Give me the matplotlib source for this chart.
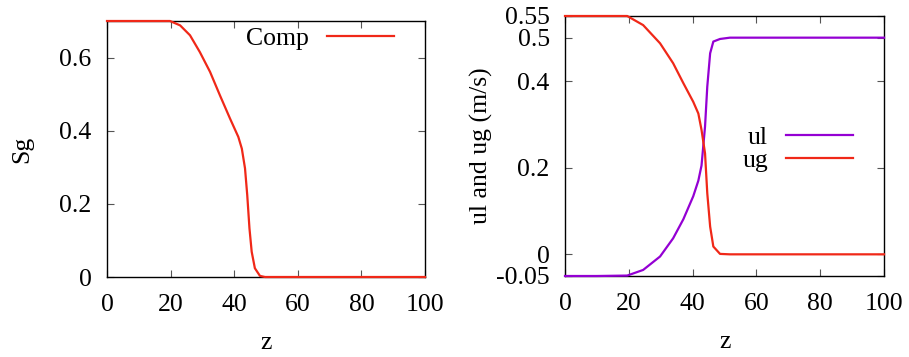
"""Gas saturation and phase velocities along z."""

import matplotlib.pyplot as plt

# gas saturation profile
z_sg = [0, 10, 19.8, 23, 26.1, 29.2, 32.4, 35.5, 38.7, 41.3, 42.4, 43.4,
        44.1, 44.8, 45.5, 46.5, 48.1, 49.7, 60, 80, 100]
sg = [0.7, 0.7, 0.7, 0.688, 0.661, 0.615, 0.561, 0.497, 0.433, 0.383, 0.351,
      0.297, 0.224, 0.133, 0.069, 0.024, 0.003, 0.0, 0.0, 0.0, 0.0]

# phase velocities
z_u = [0, 10, 19.5, 24.5, 29.8, 33.9, 37.1, 40.2, 41.8, 42.8, 43.9, 44.6,
       45.5, 46.5, 48.6, 51.7, 60, 80, 100]
ug = [0.55, 0.55, 0.55, 0.529, 0.487, 0.441, 0.395, 0.352, 0.325, 0.287,
      0.233, 0.141, 0.064, 0.018, 0.001, 0.0, 0.0, 0.0, 0.0]
ul = [-0.05, -0.05, -0.049, -0.036, -0.005, 0.037, 0.081, 0.134, 0.17, 0.205,
      0.295, 0.387, 0.464, 0.491, 0.497, 0.5, 0.5, 0.5, 0.5]

RED = '#f02818'
PURPLE = '#9400d3'
FS = 18.5


def style(ax):
    """Gnuplot-like axes: inward mirrored ticks."""
    ax.tick_params(direction='in', top=True, right=True, length=5,
                   width=0.8, color='#555555', labelsize=FS)
    ax.tick_params(axis='x', pad=12)
    ax.tick_params(axis='y', pad=11)
    for spine in ax.spines.values():
        spine.set_linewidth(1.0)


def main():
    """Main program called during execution."""

    plt.rcParams['font.family'] = ['Liberation Serif', 'DejaVu Serif']
    fig = plt.figure(figsize=(9.09, 3.57), dpi=100)

    # left panel: saturation
    ax = fig.add_axes([107/909, 1-277/357, 318/909, 256/357])
    ax.plot(z_sg, sg, color=RED, lw=1.6, label='Comp', clip_on=False,
            zorder=5)
    ax.set_xlim(0, 100)
    ax.set_ylim(0, 0.7)
    ax.set_xticks([0, 20, 40, 60, 80, 100])
    ax.set_yticks([0, 0.2, 0.4, 0.6])
    ax.set_yticklabels(['0', '0.2', '0.4', '0.6'])
    ax.set_xlabel('z', fontsize=FS, labelpad=12)
    ax.set_ylabel('Sg', fontsize=FS, labelpad=19)
    ax.legend(loc='upper right', bbox_to_anchor=(0.975, 1.065),
              frameon=False, markerfirst=False, fontsize=FS,
              handlelength=2.6, handletextpad=0.7)
    style(ax)

    # right panel: velocities
    ax = fig.add_axes([565/909, 1-276/357, 319/909, 260/357])
    ax.plot(z_u, ul, color=PURPLE, lw=1.6, label='ul', clip_on=False,
            zorder=5)
    ax.plot(z_u, ug, color=RED, lw=1.6, label='ug', clip_on=False, zorder=5)
    ax.set_xlim(0, 100)
    ax.set_ylim(-0.05, 0.55)
    ax.set_xticks([0, 20, 40, 60, 80, 100])
    ax.set_yticks([-0.05, 0, 0.2, 0.4, 0.5, 0.55])
    ax.set_yticklabels(['-0.05', '0', '0.2', '0.4', '0.5', '0.55'])
    ax.set_xlabel('z', fontsize=FS, labelpad=12)
    ax.set_ylabel('ul and ug (m/s)', fontsize=FS, labelpad=2)
    ax.legend(loc='center right', bbox_to_anchor=(0.975, 0.49),
              frameon=False, markerfirst=False, fontsize=FS,
              handlelength=2.6, handletextpad=0.7, labelspacing=0.0)
    style(ax)

    fig.savefig('out.png', dpi=100)


if __name__ == '__main__':
    main()
